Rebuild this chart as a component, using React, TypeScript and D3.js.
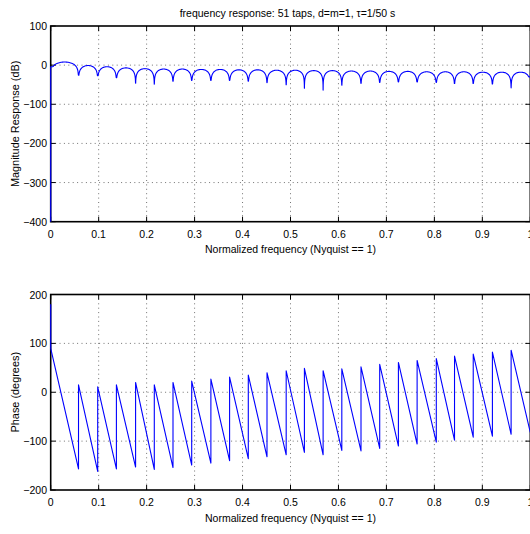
import React from 'react';
import * as d3 from 'd3';

// ---- data ----
const titleText = 'frequency response: 51 taps, d=m=1, τ=1/50 s';
const xLabelText = 'Normalized frequency (Nyquist == 1)';
const magLabelText = 'Magnitude Response (dB)';
const phaseLabelText = 'Phase (degrees)';

// normalized frequencies of the magnitude nulls / phase jumps
const nullFreqs = [0.058, 0.098, 0.137, 0.177, 0.216, 0.255, 0.294, 0.334, 0.373, 0.412, 0.451, 0.491,
  0.529, 0.568, 0.607, 0.647, 0.686, 0.725, 0.764, 0.804, 0.842, 0.881, 0.921, 0.960];
// depth of each null (dB)
const nullDepthsDb = [-26, -27, -32, -46, -49, -41, -39, -39, -39, -41, -45, -50,
  -59, -64, -51, -47, -44, -43, -43, -44, -47, -47, -48, -58];
// peak of each lobe (dB), 25 lobes between 0, the nulls and 1
const lobePeaksDb = [8, -1, -4, -7, -9, -10, -10, -11, -11, -12, -12, -13, -13,
  -14, -14, -15, -15, -16, -16, -17, -17, -17, -18, -18, -18];
const magFloorDb = -400;
const magStartDb = -4;
const magEndDb = -30;

// phase (degrees)
const phaseStartTop = 180;
const phaseStartValue = 90;
const phaseBeforeJump = [-157, -162, -157, -153, -158, -154, -149, -145, -140, -136, -132, -128,
  -123, -128, -119, -120, -115, -110, -106, -102, -98, -92, -90, -86];
const phaseAfterJump = [15, 11, 15, 20, 15, 20, 23, 27, 31, 35, 40, 44,
  49, 44, 48, 52, 57, 61, 65, 69, 74, 78, 82, 86];
const phaseEnd = -82;

const xTicks = [0, 0.1, 0.2, 0.3, 0.4, 0.5, 0.6, 0.7, 0.8, 0.9, 1];
const magTicks = [-400, -300, -200, -100, 0, 100];
const phaseTicks = [-200, -100, 0, 100, 200];

// ---- layout ----
const W = 530;
const H = 534;
const X0 = 50.7;
const X1 = 530.3;
const FONT = '"Liberation Sans", Arial, Helvetica, sans-serif';
const FS = 10.5;

const x = d3.scaleLinear().domain([0, 1]).range([X0, X1]);
const yMag = d3.scaleLinear().domain([-400, 100]).range([221.7, 26]);
const yPhase = d3.scaleLinear().domain([-200, 200]).range([490, 294.5]);

const fmt = (v: number) => {
  const s = d3.format('~g')(v);
  return s.replace('-', '\u2212');
};

// magnitude: each lobe drawn as a |sin| arch in dB between its bounding nulls
function magnitudePoints(): [number, number][] {
  const edges = [0, ...nullFreqs, 1];
  const depths = [magStartDb, ...nullDepthsDb, magEndDb];
  const pts: [number, number][] = [[0, magFloorDb]];
  const N = 48;
  for (let j = 0; j < lobePeaksDb.length; j++) {
    const fa = edges[j], fb = edges[j + 1];
    const da = depths[j], db = depths[j + 1];
    const p = lobePeaksDb[j];
    for (let i = 0; i <= N; i++) {
      if (j > 0 && i === 0) continue;
      const s = i / N;
      const t = (1 - Math.cos(Math.PI * s)) / 2;
      const sn = Math.sin(Math.PI * t);
      let v = sn > 0 ? p + 20 * Math.log10(sn) : -Infinity;
      const d = t < 0.5 ? da : db;
      if (i === 0) v = da;
      else if (i === N) v = db;
      else v = Math.max(v, d);
      pts.push([fa + (fb - fa) * t, v]);
    }
  }
  return pts;
}

function phasePoints(): [number, number][] {
  const pts: [number, number][] = [[0, phaseStartTop], [0, phaseStartValue]];
  nullFreqs.forEach((f, i) => {
    pts.push([f, phaseBeforeJump[i]]);
    pts.push([f, phaseAfterJump[i]]);
  });
  pts.push([1, phaseEnd]);
  return pts;
}

type PanelProps = {
  y: d3.ScaleLinear<number, number>;
  yTicks: number[];
  yLabel: string;
  data: [number, number][];
  tickBaseline: number;
  labelBaseline: number;
};

function Panel({ y, yTicks, yLabel, data, tickBaseline, labelBaseline }: PanelProps) {
  const [yb, yt] = y.range();
  const line = d3.line<[number, number]>().x(d => x(d[0])).y(d => y(d[1]));
  const tl = 5;
  const gridStyle = { stroke: '#444', strokeWidth: 0.75, strokeDasharray: '1,3.4' };
  return (
    <g>
      {/* grid */}
      {xTicks.filter(t => t > 0 && t < 1).map(t => (
        <line key={'gx' + t} x1={x(t)} x2={x(t)} y1={yt} y2={yb} {...gridStyle} />
      ))}
      {yTicks.filter((t, i) => i > 0 && i < yTicks.length - 1).map(t => (
        <line key={'gy' + t} x1={X0} x2={X1} y1={y(t)} y2={y(t)} {...gridStyle} />
      ))}
      {/* ticks */}
      {xTicks.map(t => (
        <g key={'tx' + t}>
          <line x1={x(t)} x2={x(t)} y1={yb} y2={yb - tl} stroke="#000" strokeWidth={1} />
          <line x1={x(t)} x2={x(t)} y1={yt} y2={yt + tl} stroke="#000" strokeWidth={1} />
          <text x={x(t)} y={tickBaseline} textAnchor="middle" fontSize={FS} fontFamily={FONT}>{fmt(t)}</text>
        </g>
      ))}
      {yTicks.map(t => (
        <g key={'ty' + t}>
          <line x1={X0} x2={X0 + tl} y1={y(t)} y2={y(t)} stroke="#000" strokeWidth={1} />
          <line x1={X1} x2={X1 - tl} y1={y(t)} y2={y(t)} stroke="#000" strokeWidth={1} />
          <text x={47} y={y(t) + 4} textAnchor="end" fontSize={FS} fontFamily={FONT}>{fmt(t)}</text>
        </g>
      ))}
      {/* frame */}
      <rect x={X0} y={yt} width={X1 - X0} height={yb - yt} fill="none" stroke="#000" strokeWidth={1.6} />
      {/* data */}
      <path d={line(data) || ''} fill="none" stroke="#0000ff" strokeWidth={1.1} strokeLinejoin="round" />
      {/* labels */}
      <text x={(X0 + X1) / 2} y={labelBaseline} textAnchor="middle" fontSize={FS} fontFamily={FONT}>{xLabelText}</text>
      <text transform={`translate(19,${(yb + yt) / 2}) rotate(-90)`} textAnchor="middle" fontSize={10.9} fontFamily={FONT}>{yLabel}</text>
    </g>
  );
}

export default function App() {
  const mag = magnitudePoints();
  const ph = phasePoints();
  return (
    <svg width={W} height={H} style={{ position: 'absolute', left: 0, top: 0, background: '#fff' }}>
      <rect x={0} y={0} width={W} height={H} fill="#fff" />
      <text x={(X0 + X1) / 2 - 3} y={16.5} textAnchor="middle" fontSize={FS} fontFamily={FONT}>{titleText}</text>
      <Panel y={yMag} yTicks={magTicks} yLabel={magLabelText} data={mag} tickBaseline={237.5} labelBaseline={253} />
      <Panel y={yPhase} yTicks={phaseTicks} yLabel={phaseLabelText} data={ph} tickBaseline={506} labelBaseline={521.5} />
    </svg>
  );
}
